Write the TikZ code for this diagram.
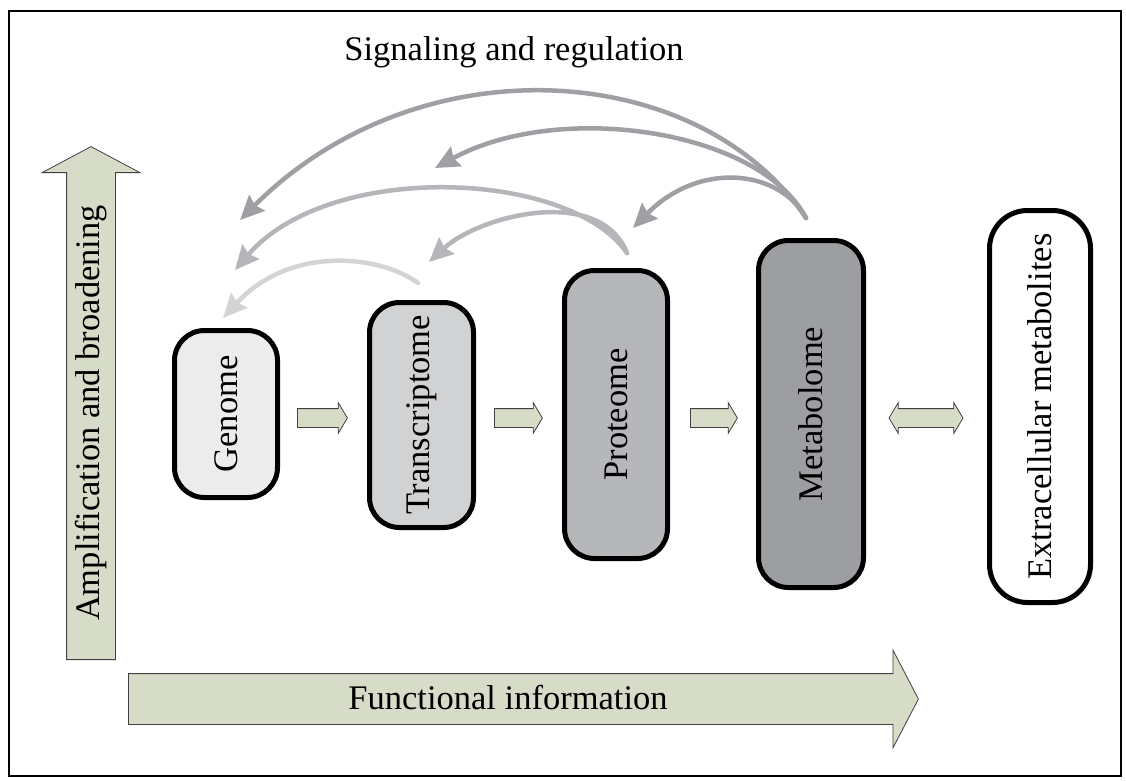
\documentclass[tikz,border=0pt]{standalone}
\usepackage{fontspec}
\setmainfont{Liberation Serif}
\usepackage{graphicx}
\usepackage{tikz}
\usetikzlibrary{shapes.arrows,arrows.meta}

\definecolor{sage}{RGB}{214,220,200}
\definecolor{genomegray}{RGB}{236,236,236}
\definecolor{transgray}{RGB}{209,210,212}
\definecolor{protgray}{RGB}{182,183,186}
\definecolor{metabgray}{RGB}{156,158,161}
\definecolor{metabline}{RGB}{158,160,164}
\definecolor{protline}{RGB}{181,182,185}
\definecolor{transline}{RGB}{212,212,212}

\begin{document}
\begin{tikzpicture}[x=1pt,y=-1pt,
  txt/.style={font=\fontsize{34.5pt}{41pt}\selectfont},
  omebox/.style={draw=black,line width=5pt,rounded corners=30pt,inner sep=0pt,txt},
  blockarrow/.style={single arrow,fill=sage,draw=black!75,line width=0.8pt,inner xsep=0pt},
  smallarrow/.style={blockarrow,minimum height=#1,inner ysep=9,single arrow head extend=6,single arrow tip angle=118,anchor=tail},
  sigarrow/.style={line width=4.5pt,line cap=round,-{Stealth[length=24pt,width=22pt,inset=3pt]}}]
\useasboundingbox (0,0) rectangle (1126,780);
\draw[line width=1.5pt] (9,11) rectangle (1121,776);

\node[blockarrow,rotate=90,anchor=tail,minimum height=513,inner ysep=24,single arrow head extend=24.5,single arrow tip angle=124] (ampl) at (91,660) {};
\node[txt,rotate=90] (ampltext) at (91,413) {Amplification and broadening};
\node[blockarrow,anchor=tail,minimum height=790,inner ysep=25,single arrow head extend=23.5,single arrow tip angle=125] (func) at (128,699) {};
\node[txt] (functext) at (508,698) {Functional information};
\node[txt] (signal) at (514,52) {Signaling and regulation};

\node[omebox,fill=genomegray,minimum width=103,minimum height=167] (genome) at (226,414) {\rotatebox{90}{Genome}};
\node[omebox,fill=transgray,minimum width=104,minimum height=225] (trans) at (421.5,415) {\rotatebox{90}{Transcriptome}};
\node[omebox,fill=protgray,minimum width=103,minimum height=288] (prot) at (616,414.5) {\rotatebox{90}{Proteome}};
\node[omebox,fill=metabgray,minimum width=105,minimum height=347] (metab) at (811,414) {\rotatebox{90}{Metabolome}};
\node[omebox,fill=white,rounded corners=38pt,minimum width=101,minimum height=392] (extra) at (1040,406.5) {\rotatebox{90}{Extracellular metabolites}};

\node[smallarrow=50] (g2t) at (297,418) {};
\node[smallarrow=48] (t2p) at (494,418) {};
\node[smallarrow=47] (p2m) at (690,418) {};
\node[double arrow,fill=sage,draw=black!75,line width=0.8pt,inner xsep=0pt,inner ysep=9,minimum height=74,double arrow head extend=6,double arrow tip angle=118] (m2e) at (926,418) {};

\coordinate (metabout) at (806,218);
\coordinate (protout) at (627,253);
\coordinate (transout) at (418,283);
\coordinate (genomein1) at (223,318);
\coordinate (genomein2) at (235,270);
\coordinate (genomein3) at (240,220);
\coordinate (transin1) at (429,262);
\coordinate (transin2) at (435,168);
\coordinate (protin) at (633,228);

\draw[sigarrow,transline] (transout) .. controls (380,255) and (290,245) .. (genomein1);
\draw[sigarrow,protline] (protout) .. controls (570,170) and (330,160) .. (genomein2);
\draw[sigarrow,protline] (protout) .. controls (600,185) and (480,215) .. (transin1);
\draw[sigarrow,metabline] (metabout) .. controls (700,60) and (420,40) .. (genomein3);
\draw[sigarrow,metabline] (metabout) .. controls (760,130) and (560,100) .. (transin2);
\draw[sigarrow,metabline] (metabout) .. controls (780,170) and (700,160) .. (protin);
\end{tikzpicture}
\end{document}
